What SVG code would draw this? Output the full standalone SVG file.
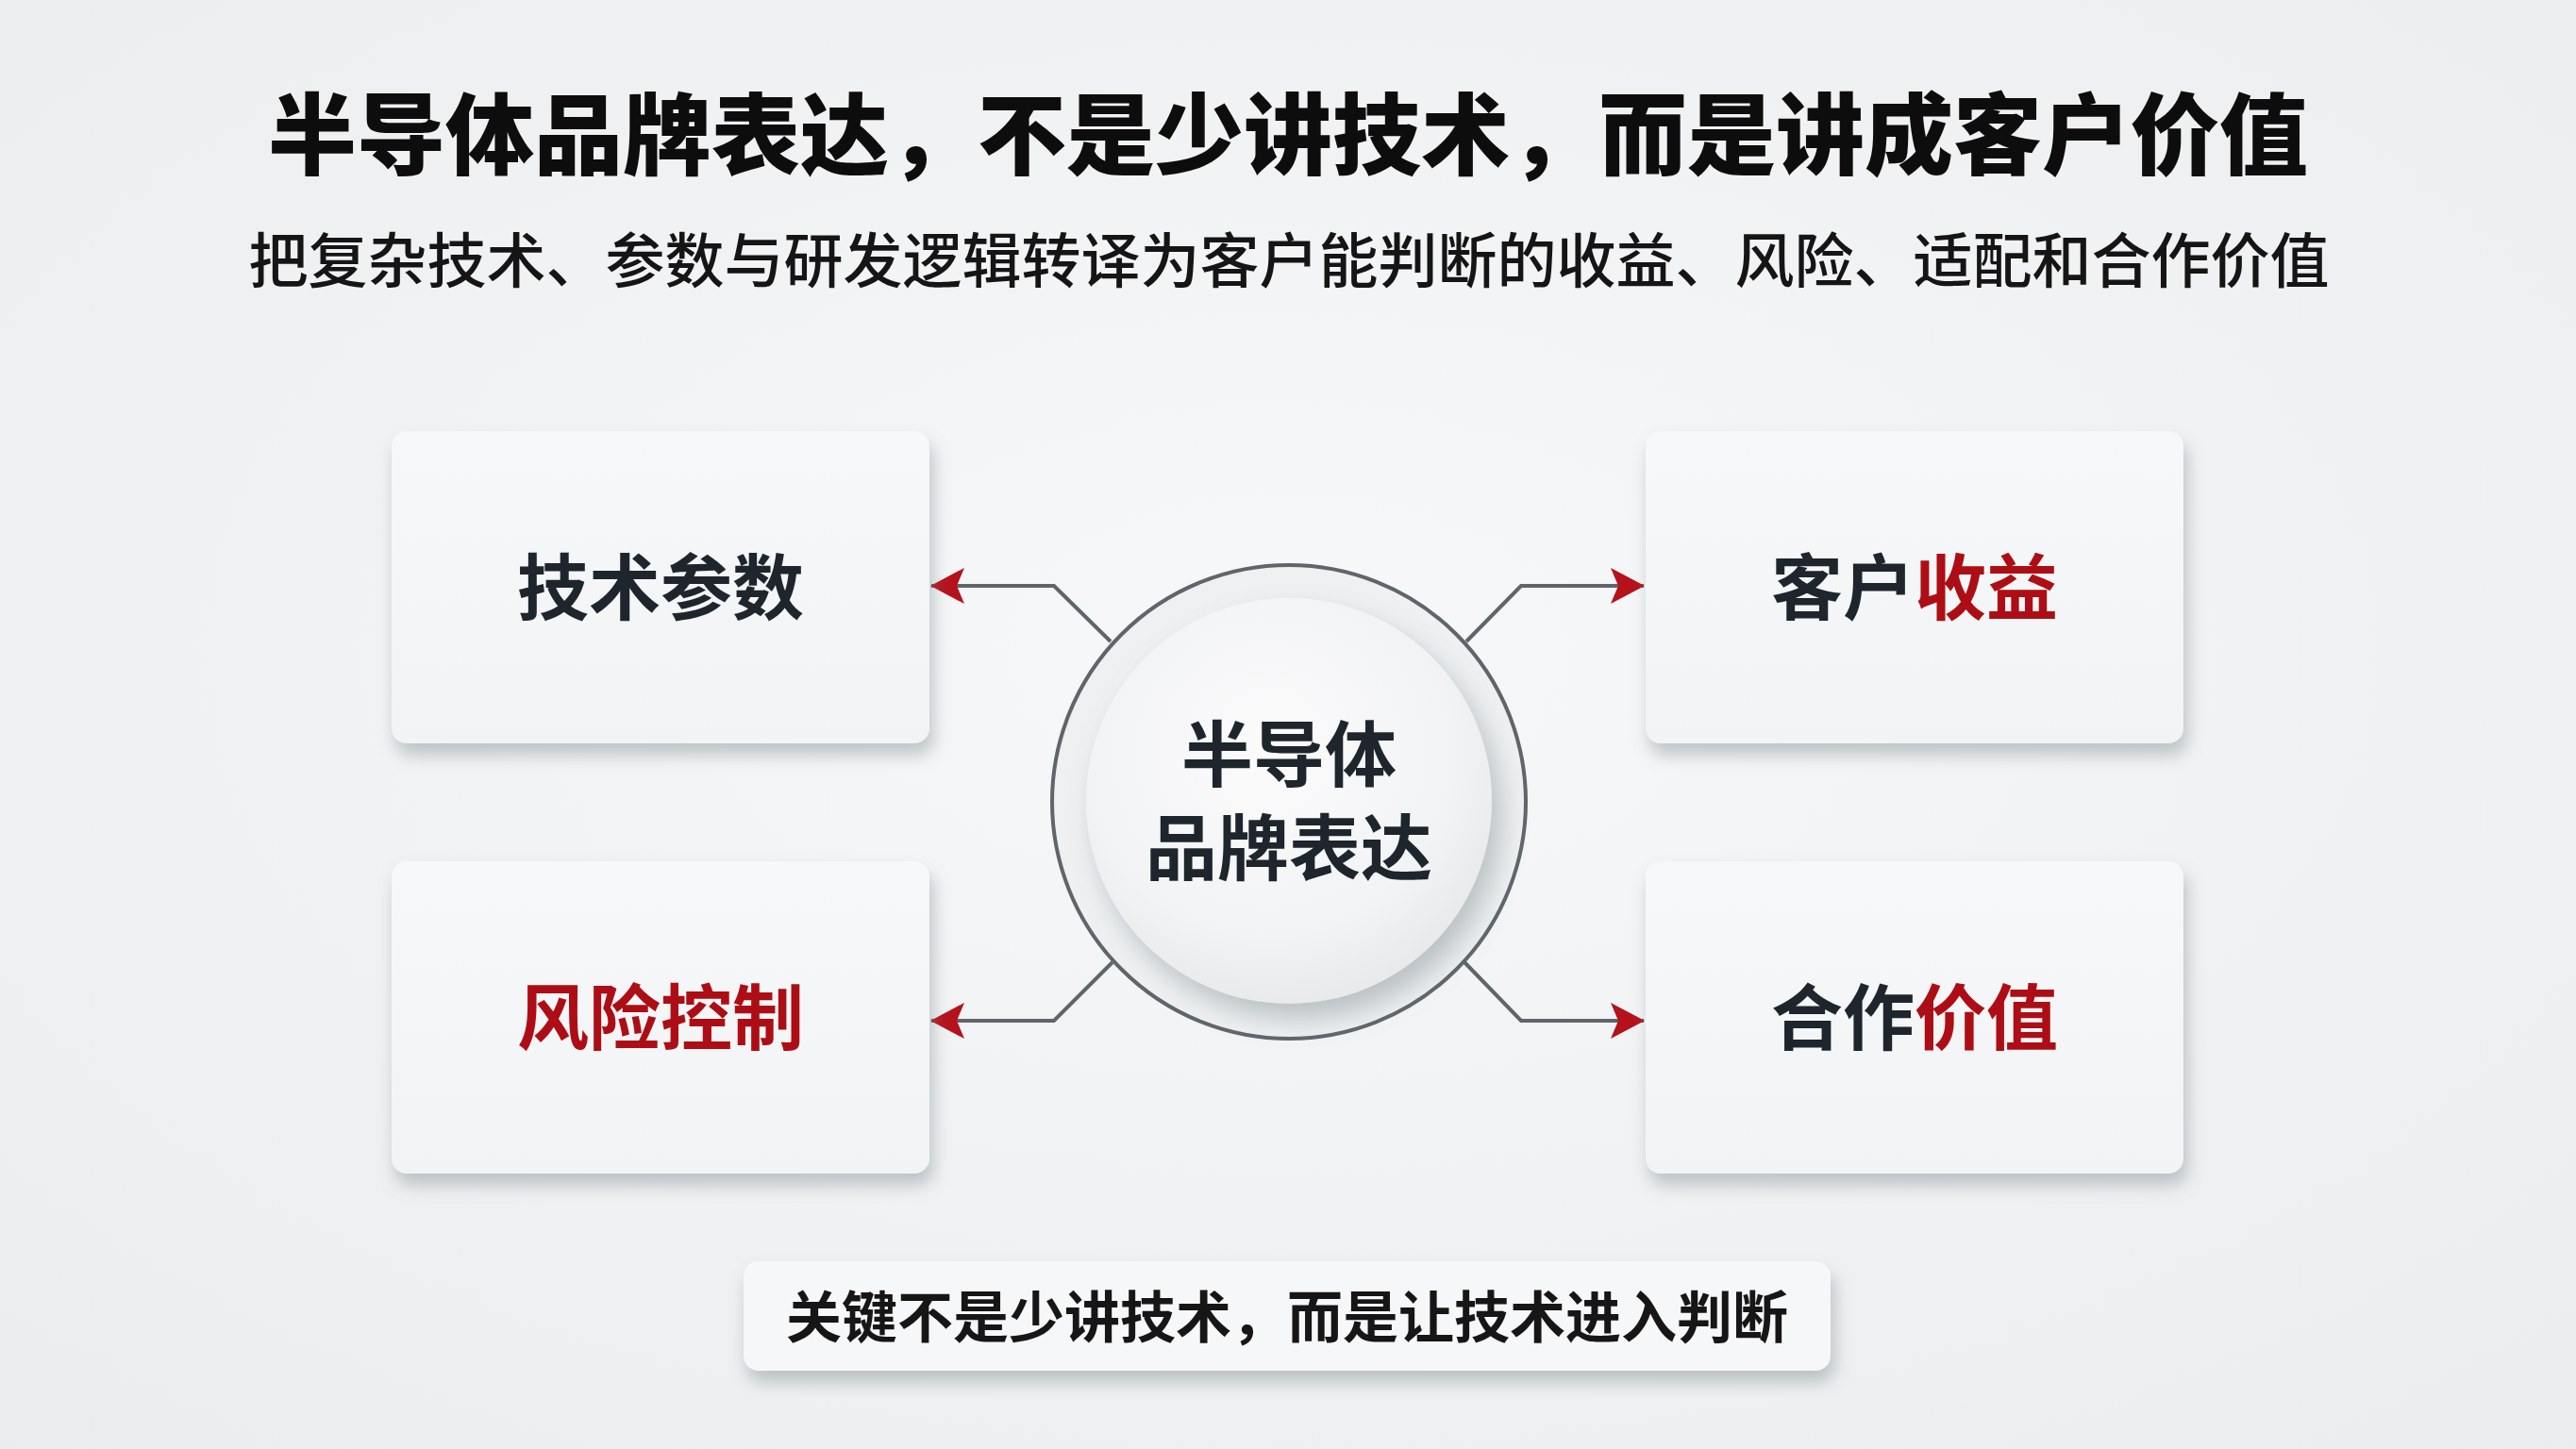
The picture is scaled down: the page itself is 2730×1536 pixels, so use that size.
<svg xmlns="http://www.w3.org/2000/svg" width="2730" height="1536" viewBox="0 0 2730 1536">
<defs>
<radialGradient id="bg" cx="50%" cy="45%" r="75%">
<stop offset="0" stop-color="#f7f8f9"/>
<stop offset="1" stop-color="#eaeced"/>
</radialGradient>
<linearGradient id="card" x1="0" y1="0" x2="0" y2="1">
<stop offset="0" stop-color="#f7f8f9"/>
<stop offset="1" stop-color="#f2f3f4"/>
</linearGradient>
<radialGradient id="disc" cx="45%" cy="38%" r="65%">
<stop offset="0" stop-color="#fbfbfc"/>
<stop offset="0.7" stop-color="#f2f3f4"/>
<stop offset="1" stop-color="#e6e8ea"/>
</radialGradient>
<filter id="sh" x="-10%" y="-10%" width="125%" height="135%">
<feDropShadow dx="4" dy="12" stdDeviation="9" flood-color="#7d868e" flood-opacity="0.45"/>
</filter>
<filter id="shd" x="-20%" y="-20%" width="150%" height="150%">
<feDropShadow dx="10" dy="16" stdDeviation="14" flood-color="#7d868e" flood-opacity="0.45"/>
</filter>
<marker id="ah" viewBox="0 0 36 40" refX="35" refY="20" markerWidth="36" markerHeight="40" markerUnits="userSpaceOnUse" orient="auto">
<path d="M0,1 L36,20 L0,39 L8,20 Z" fill="#b5121b"/>
</marker>
<style>
.t{font-family:"Noto Sans CJK SC","Noto Sans",sans-serif;text-anchor:middle}
.h1{font-size:94px;font-weight:900;fill:#0d0d0d}
.h2{font-size:63px;font-weight:500;fill:#151515}
.lab{font-size:76px;font-weight:700;fill:#1e252c}
.red{fill:#ad0e15}
.note{font-size:59px;font-weight:700;fill:#161616}
.cardr{fill:url(#card);filter:url(#sh)}
.con{fill:none;stroke:#5f656b;stroke-width:4;marker-end:url(#ah)}
</style>
</defs>
<rect width="2730" height="1536" fill="url(#bg)"/>
<g id="title">
<text class="t h1" x="1365" y="178">半导体品牌表达，不是少讲技术，而是讲成客户价值</text>
<text class="t h2" x="1366" y="299">把复杂技术、参数与研发逻辑转译为客户能判断的收益、风险、适配和合作价值</text>
</g>
<g id="connectors">
<path class="con" d="M1177,680 L1117,621 L987,621"/>
<path class="con" d="M1554,680 L1612,621 L1742,621"/>
<path class="con" d="M1179,1020 L1117,1082 L987,1082"/>
<path class="con" d="M1552,1020 L1612,1082 L1742,1082"/>
</g>
<g id="node-tech">
<rect class="cardr" x="415" y="457" width="570" height="331" rx="16"/>
<text class="t lab" x="700" y="651">技术参数</text>
</g>
<g id="node-benefit">
<rect class="cardr" x="1744" y="457" width="570" height="331" rx="16"/>
<text class="t lab" x="2029" y="651">客户<tspan class="red">收益</tspan></text>
</g>
<g id="node-risk">
<rect class="cardr" x="415" y="913" width="570" height="331" rx="16"/>
<text class="t lab red" x="700" y="1107">风险控制</text>
</g>
<g id="node-coop">
<rect class="cardr" x="1744" y="913" width="570" height="331" rx="16"/>
<text class="t lab" x="2029" y="1107">合作<tspan class="red">价值</tspan></text>
</g>
<g id="node-center">
<circle cx="1366" cy="850" r="251" fill="#eef0f1" stroke="#5f656b" stroke-width="4"/>
<circle cx="1366" cy="849" r="215" fill="url(#disc)" filter="url(#shd)"/>
<text class="t lab" x="1366" y="828">半导体</text>
<text class="t lab" x="1366" y="927">品牌表达</text>
</g>
<g id="note">
<rect x="788" y="1337" width="1152" height="116" rx="16" fill="#f6f7f8" filter="url(#sh)"/>
<text class="t note" x="1364" y="1418">关键不是少讲技术，而是让技术进入判断</text>
</g>
</svg>
